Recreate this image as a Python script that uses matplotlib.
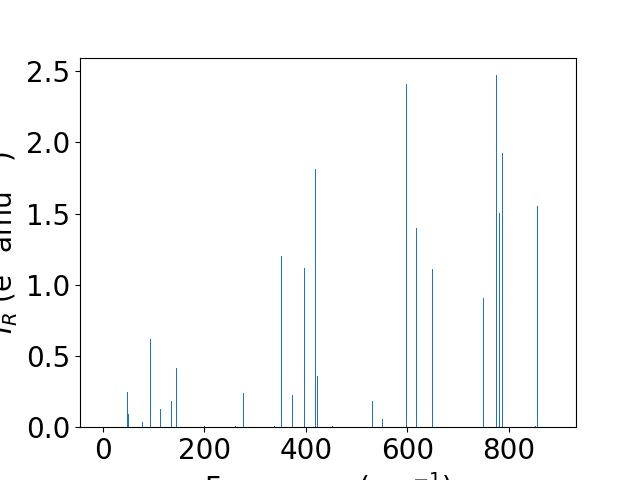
import numpy as np
import matplotlib.pyplot as plt

# frequencies (cm^-1) and IR intensities
freq = [48.1, 50.7, 77.7, 93.5, 113.3, 135.0, 144.9, 200.2, 261.5, 277.3,
        338.6, 352.4, 374.2, 397.8, 419.6, 423.5, 453.2, 532.2, 552.0, 599.4,
        619.2, 650.8, 749.6, 775.3, 781.2, 787.2, 852.4, 856.3]
intensity = [0.246, 0.091, 0.035, 0.618, 0.126, 0.183, 0.414, 0.007, 0.01, 0.239,
             0.007, 1.20, 0.225, 1.117, 1.81, 0.358, 0.01, 0.183, 0.056, 2.409,
             1.397, 1.109, 0.906, 2.472, 1.503, 1.924, 0.01, 1.552]

plt.rcParams['font.size'] = 20

fig, ax = plt.subplots(figsize=(6.4, 4.8), dpi=100)
ax.bar(freq, intensity, width=2, color='#1f77b4', linewidth=0)
ax.set_xlim(-45.5, 933)
ax.set_xlabel('Frequency (cm$^{-1}$)')
ax.set_ylabel('$I_R$ (e$^2$ amu$^{-1}$)')

plt.savefig('out.png')
